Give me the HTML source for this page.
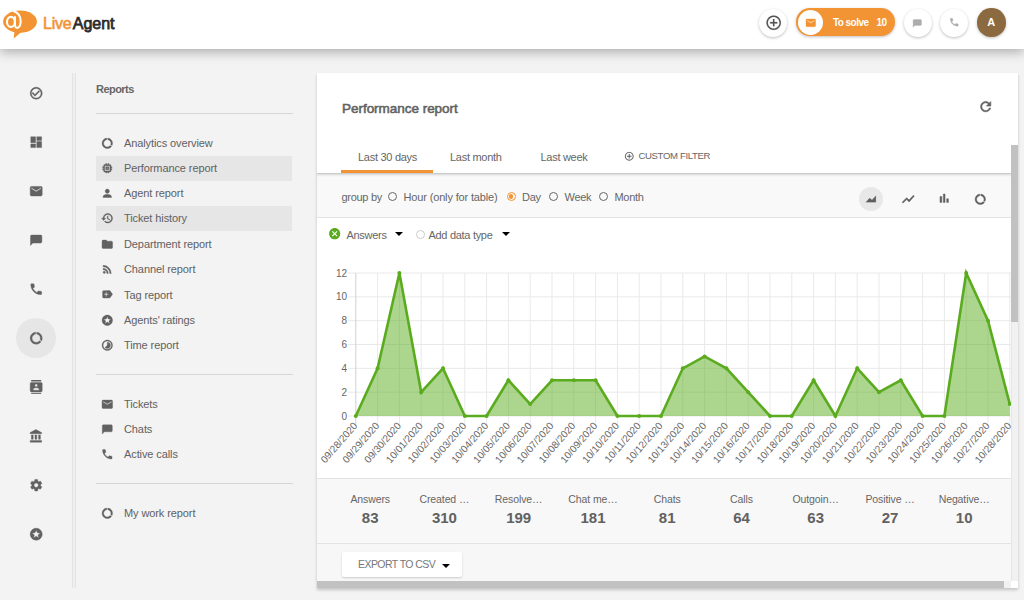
<!DOCTYPE html>
<html><head><meta charset="utf-8"><title>LiveAgent - Performance report</title><style>
*{margin:0;padding:0;box-sizing:border-box}
html,body{width:1024px;height:600px;overflow:hidden;background:#f3f3f3;font-family:"Liberation Sans",sans-serif;color:#616161}
.ic{position:absolute;display:block}
.t{position:absolute;white-space:nowrap;line-height:14px}
#hdr{position:absolute;left:0;top:0;width:1024px;height:48.7px;background:#fff;box-shadow:0 3px 11px rgba(0,0,0,0.3)}
#logo{font-size:16px;letter-spacing:-0.2px;line-height:18px}
#logo span:first-child{font-weight:normal;-webkit-text-stroke:0.6px #f29434}
#logo span:last-child{font-weight:normal;letter-spacing:0px;margin-left:1.2px;-webkit-text-stroke:0.75px #2b2b2b}
.hb{position:absolute;width:28px;height:28px;border-radius:50%;background:#fff;box-shadow:0 1px 3px rgba(0,0,0,0.25)}
#pill{position:absolute;left:796px;top:8px;width:99px;height:28px;border-radius:14px;background:#f29434;box-shadow:0 1px 3px rgba(0,0,0,0.25)}
#pillc{position:absolute;left:797.8px;top:10px;width:25px;height:25px;border-radius:50%;background:#fff}
.ts{color:#fff;font-weight:bold;font-size:10px;letter-spacing:-0.55px}
#avatar{position:absolute;left:977px;top:8px;width:28.5px;height:28.5px;border-radius:50%;background:#8a6a3e;color:#fff;font-weight:bold;font-size:11px;text-align:center;line-height:28.5px;box-shadow:0 1px 3px rgba(0,0,0,0.25)}
#selc{position:absolute;left:15.6px;top:317.8px;width:40.5px;height:40.5px;border-radius:50%;background:#e6e6e6}
#vline{position:absolute;left:72px;top:73px;width:4px;height:515px;border-left:1px solid #e3e3e3;border-right:1px solid #e3e3e3;background:#efefef}
.rep{font-size:11px;font-weight:bold;letter-spacing:-0.55px;color:#666}
.hl{position:absolute;left:96px;width:196.5px;height:1px;background:#d6d6d6}
.hi{position:absolute;left:96px;width:196px;height:25px;background:#e6e6e6}
.mi{font-size:11px;letter-spacing:-0.1px;color:#616161}
#card{position:absolute;left:317px;top:73.3px;width:700.5px;height:514.7px;background:#f7f7f7;box-shadow:0 2px 3px rgba(0,0,0,0.2)}
#cardtop{position:absolute;left:317px;top:73.3px;width:700.5px;height:99.7px;background:#fff}
.title{font-size:13.5px;font-weight:normal;letter-spacing:-0.03px;color:#616161;-webkit-text-stroke:0.55px #616161}
.tab{font-size:11px;letter-spacing:-0.28px;color:#666}
.cf{font-size:9.6px;letter-spacing:-0.38px;color:#666}
#uline{position:absolute;left:341px;top:170px;width:92px;height:3px;background:#f29434}
#tabshadow{position:absolute;left:317px;top:173px;width:694px;height:4px;background:linear-gradient(rgba(0,0,0,0.22),rgba(0,0,0,0.06) 50%,rgba(0,0,0,0))}
#chartbg{position:absolute;left:317px;top:218px;width:694px;height:260px;background:#fff}
#grp{position:absolute;left:317px;top:173px;width:694px;height:45px;background:#f9f9f9;border-bottom:1px solid #e3e3e3}
.gb{font-size:11px;letter-spacing:-0.3px;color:#666}
.rad{position:absolute;width:9.2px;height:9.2px;border-radius:50%;border:1.4px solid #666;background:transparent}
.rad.on{border-color:#f29434}
.rad.on::after{content:"";position:absolute;left:1.05px;top:1.05px;width:4.3px;height:4.3px;border-radius:50%;background:#f29434}
.rad.lt{border-color:#ccc;border-width:1px}
#selchart{position:absolute;left:859px;top:187px;width:24px;height:24px;border-radius:50%;background:#e8e8e8}
.tri{position:absolute;width:0;height:0;border-left:4px solid transparent;border-right:4px solid transparent;border-top:4.5px solid #000}
#chart{position:absolute;left:0;top:0}
#chart{pointer-events:none}
.yl{font-family:"Liberation Sans",sans-serif;font-size:10px;fill:#666}
.xl{font-family:"Liberation Sans",sans-serif;font-size:10px;fill:#666}
#stats{position:absolute;left:317px;top:478px;width:694px;height:66px;background:#f8f8f8;border-top:1px solid #e3e3e3;border-bottom:1px solid #e3e3e3}
.sl{position:absolute;top:493px;width:80px;text-align:center;font-size:10.5px;color:#666;line-height:13px;letter-spacing:-0.1px}
.sv{position:absolute;top:509.3px;width:80px;text-align:center;font-size:15px;font-weight:bold;color:#616161;line-height:18px}
#exp{position:absolute;left:341.5px;top:552px;width:120.5px;height:25px;background:#fff;border-radius:2px;box-shadow:0 1px 2px rgba(0,0,0,0.18)}
#exp span{position:absolute;left:16.5px;top:6px;font-size:10.5px;letter-spacing:-0.55px;color:#777;line-height:13px;white-space:nowrap}
#vtrack{position:absolute;left:1011px;top:145px;width:6.5px;height:436px;background:#f1f1f1;border-left:1px solid #e5e5e5}
#vthumb{position:absolute;left:1011px;top:145px;width:6.5px;height:177px;background:#c1c1c1}
#htrack{position:absolute;left:317px;top:581px;width:694px;height:7px;background:#f1f1f1}
#hthumb{position:absolute;left:317px;top:581px;width:687px;height:7px;background:#c1c1c1}
#corner{position:absolute;left:1011px;top:581px;width:6.5px;height:7px;background:#fff}
</style></head><body>
<div id="hdr"></div>
<svg class="ic" style="left:0;top:0;width:40px;height:48px" viewBox="0 0 40 48">
<ellipse cx="20" cy="21.6" rx="16.9" ry="11.1" fill="#f29434"/>
<polygon points="14.5,30 22.5,31 13.8,38.6" fill="#f29434"/>
<ellipse cx="10.9" cy="21.9" rx="3.9" ry="5" fill="none" stroke="#fff" stroke-width="2.1"/>
<path d="M15 16.3 V25 Q15.2 28 17.6 27.9 Q20.7 26.8 20.7 21 Q20.4 13.2 13.2 11" fill="none" stroke="#fff" stroke-width="2"/>
</svg>
<div class="t" id="logo" style="left:43px;top:15px"><span style="color:#f29434">Live</span><span style="color:#2b2b2b">Agent</span></div>
<div class="hb" style="left:759px;top:8.5px"></div>
<svg class="ic" style="left:764.90px;top:13.90px;width:17.4px;height:17.4px" viewBox="0 0 24 24"><path fill="#555" stroke="#555" stroke-width="0.2" stroke-linejoin="round" d="M13 7h-2v4H7v2h4v4h2v-4h4v-2h-4V7zm-1-5C6.48 2 2 6.48 2 12s4.48 10 10 10 10-4.48 10-10S17.52 2 12 2zm0 18c-4.41 0-8-3.59-8-8s3.59-8 8-8 8 3.59 8 8-3.59 8-8 8z"/></svg>
<div id="pill"></div><div id="pillc"></div>
<svg class="ic" style="left:804.60px;top:17.00px;width:11.6px;height:11.6px" viewBox="0 0 24 24"><path fill="#f29434" stroke="#f29434" stroke-width="0.7" stroke-linejoin="round" d="M20 4H4c-1.1 0-1.99.9-1.99 2L2 18c0 1.1.9 2 2 2h16c1.1 0 2-.9 2-2V6c0-1.1-.9-2-2-2zm0 4l-8 5-8-5V6l8 5 8-5v2z"/></svg>
<div class="t ts" style="left:833px;top:15.8px;">To solve</div>
<div class="t ts" style="left:876.5px;top:15.8px;">10</div>
<div class="hb" style="left:904px;top:9px"></div>
<svg class="ic" style="left:912.00px;top:17.70px;width:10.6px;height:10.6px" viewBox="0 0 24 24"><path fill="#acacac" stroke="#acacac" stroke-width="0.7" stroke-linejoin="round" d="M4.5 3.5h15c1.1 0 2 .9 2 2v9.3c0 1.1-.9 2-2 2H6.5l-4 4V5.5c0-1.1.9-2 2-2z"/></svg>
<div class="hb" style="left:940px;top:9px"></div>
<svg class="ic" style="left:948.65px;top:17.25px;width:10.5px;height:10.5px" viewBox="0 0 24 24"><path fill="#acacac" stroke="#acacac" stroke-width="0.7" stroke-linejoin="round" d="M6.62 10.79c1.44 2.830 3.76 5.14 6.59 6.59l2.2-2.2c.27-.27.67-.36 1.02-.24 1.12.37 2.33.57 3.57.57.55 0 1 .45 1 1V20c0 .55-.45 1-1 1-9.39 0-17-7.61-17-17 0-.55.45-1 1-1h3.5c.55 0 1 .45 1 1 0 1.25.2 2.45.57 3.57.11.35.03.74-.25 1.02l-2.2 2.2z"/></svg>
<div id="avatar">A</div>
<div id="selc"></div>
<svg class="ic" style="left:28.80px;top:85.80px;width:14.4px;height:14.4px" viewBox="0 0 24 24"><path fill="#616161" stroke="#616161" stroke-width="0.7" stroke-linejoin="round" d="M16.59 7.58L10 14.17l-3.59-3.58L5 12l5 5 8-8zM12 2C6.48 2 2 6.48 2 12s4.48 10 10 10 10-4.48 10-10S17.52 2 12 2zm0 18c-4.42 0-8-3.58-8-8s3.58-8 8-8 8 3.58 8 8-3.58 8-8 8z"/></svg>
<svg class="ic" style="left:28.80px;top:134.80px;width:14.4px;height:14.4px" viewBox="0 0 24 24"><path fill="#616161" stroke="#616161" stroke-width="0.7" stroke-linejoin="round" d="M3 13h8V3H3v10zm0 8h8v-6H3v6zm10 0h8V11h-8v10zm0-18v6h8V3h-8z"/></svg>
<svg class="ic" style="left:28.80px;top:183.80px;width:14.4px;height:14.4px" viewBox="0 0 24 24"><path fill="#616161" stroke="#616161" stroke-width="0.7" stroke-linejoin="round" d="M20 4H4c-1.1 0-1.99.9-1.99 2L2 18c0 1.1.9 2 2 2h16c1.1 0 2-.9 2-2V6c0-1.1-.9-2-2-2zm0 4l-8 5-8-5V6l8 5 8-5v2z"/></svg>
<svg class="ic" style="left:28.80px;top:232.80px;width:14.4px;height:14.4px" viewBox="0 0 24 24"><path fill="#616161" stroke="#616161" stroke-width="0.7" stroke-linejoin="round" d="M4.5 3.5h15c1.1 0 2 .9 2 2v9.3c0 1.1-.9 2-2 2H6.5l-4 4V5.5c0-1.1.9-2 2-2z"/></svg>
<svg class="ic" style="left:28.80px;top:281.80px;width:14.4px;height:14.4px" viewBox="0 0 24 24"><path fill="#616161" stroke="#616161" stroke-width="0.7" stroke-linejoin="round" d="M6.62 10.79c1.44 2.830 3.76 5.14 6.59 6.59l2.2-2.2c.27-.27.67-.36 1.02-.24 1.12.37 2.33.57 3.57.57.55 0 1 .45 1 1V20c0 .55-.45 1-1 1-9.39 0-17-7.61-17-17 0-.55.45-1 1-1h3.5c.55 0 1 .45 1 1 0 1.25.2 2.45.57 3.57.11.35.03.74-.25 1.02l-2.2 2.2z"/></svg>
<svg class="ic" style="left:28.80px;top:330.80px;width:14.4px;height:14.4px" viewBox="0 0 24 24"><path fill="#616161" stroke="#616161" stroke-width="0.7" stroke-linejoin="round" d="M13 2.05v3.03c3.39.49 6 3.39 6 6.92 0 .9-.18 1.75-.48 2.54l2.6 1.53c.56-1.24.88-2.62.88-4.070 0-5.18-3.95-9.45-9-9.95zM12 19c-3.87 0-7-3.13-7-7 0-3.53 2.61-6.43 6-6.92V2.05c-5.06.5-9 4.76-9 9.95 0 5.52 4.47 10 9.99 10 3.31 0 6.24-1.61 8.06-4.09l-2.6-1.53C16.17 17.98 14.21 19 12 19z"/></svg>
<svg class="ic" style="left:28.80px;top:379.80px;width:14.4px;height:14.4px" viewBox="0 0 24 24"><path fill="#616161" stroke="#616161" stroke-width="0.7" stroke-linejoin="round" d="M20 0H4v2h16V0zM4 24h16v-2H4v2zM20 4H4c-1.1 0-2 .9-2 2v12c0 1.1.9 2 2 2h16c1.1 0 2-.9 2-2V6c0-1.1-.9-2-2-2zm-8 2.75c1.24 0 2.25 1.01 2.25 2.25s-1.01 2.25-2.25 2.25S9.75 10.24 9.75 9 10.76 6.75 12 6.75zM17 17H7v-1.5c0-1.67 3.33-2.5 5-2.5s5 .83 5 2.5V17z"/></svg>
<svg class="ic" style="left:28.80px;top:428.80px;width:14.4px;height:14.4px" viewBox="0 0 24 24"><path fill="#616161" stroke="#616161" stroke-width="0.7" stroke-linejoin="round" d="M4 10v7h3v-7H4zm6 0v7h3v-7h-3zM2 22h19v-3H2v3zm14-12v7h3v-7h-3zm-4.5-9L2 6v2h19V6l-9.5-5z"/></svg>
<svg class="ic" style="left:28.80px;top:477.80px;width:14.4px;height:14.4px" viewBox="0 0 24 24"><path fill="#616161" stroke="#616161" stroke-width="0.7" stroke-linejoin="round" d="M19.14 12.94c.04-.3.06-.61.06-.94 0-.32-.02-.64-.07-.94l2.03-1.58c.18-.14.23-.41.12-.61l-1.92-3.32c-.12-.22-.37-.29-.59-.22l-2.39.96c-.5-.38-1.03-.7-1.62-.94l-.36-2.54c-.04-.24-.24-.41-.48-.41h-3.84c-.24 0-.43.17-.47.41l-.36 2.54c-.59.24-1.13.57-1.62.94l-2.39-.96c-.22-.08-.47 0-.59.22L2.74 8.87c-.12.21-.08.47.12.61l2.03 1.58c-.05.3-.09.63-.09.94s.02.64.07.94l-2.03 1.58c-.18.14-.23.41-.12.61l1.92 3.32c.12.22.37.29.59.22l2.39-.96c.5.38 1.03.7 1.62.94l.36 2.54c.05.24.24.41.48.41h3.84c.24 0 .44-.17.47-.41l.36-2.54c.59-.24 1.13-.56 1.62-.94l2.39.96c.22.08.47 0 .59-.22l1.92-3.32c.12-.22.07-.47-.12-.61l-2.01-1.58zM12 15.6c-1.98 0-3.6-1.62-3.6-3.6s1.62-3.6 3.6-3.6 3.6 1.62 3.6 3.6-1.62 3.6-3.6 3.6z"/></svg>
<svg class="ic" style="left:28.80px;top:526.80px;width:14.4px;height:14.4px" viewBox="0 0 24 24"><path fill="#616161" stroke="#616161" stroke-width="0.7" stroke-linejoin="round" d="M11.99 2C6.47 2 2 6.48 2 12s4.47 10 9.99 10C17.52 22 22 17.52 22 12S17.52 2 11.99 2zm4.24 16L12 15.45 7.77 18l1.12-4.81-3.73-3.23 4.92-.42L12 5l1.92 4.53 4.92.42-3.73 3.23L16.23 18z"/></svg>
<div id="vline"></div>
<div class="t rep" style="left:96px;top:82px;">Reports</div>
<div class="hl" style="top:113px"></div>
<div class="hi" style="top:156px"></div>
<div class="hi" style="top:206px"></div>
<svg class="ic" style="left:101.20px;top:136.70px;width:12.6px;height:12.6px" viewBox="0 0 24 24"><path fill="#616161" stroke="#616161" stroke-width="0.7" stroke-linejoin="round" d="M13 2.05v3.03c3.39.49 6 3.39 6 6.92 0 .9-.18 1.75-.48 2.54l2.6 1.53c.56-1.24.88-2.62.88-4.070 0-5.18-3.95-9.45-9-9.95zM12 19c-3.87 0-7-3.13-7-7 0-3.53 2.61-6.43 6-6.92V2.05c-5.06.5-9 4.76-9 9.95 0 5.52 4.47 10 9.99 10 3.31 0 6.24-1.61 8.06-4.09l-2.6-1.53C16.17 17.98 14.21 19 12 19z"/></svg>
<div class="t mi" style="left:124px;top:136px;">Analytics overview</div>
<svg class="ic" style="left:101.20px;top:161.70px;width:12.6px;height:12.6px" viewBox="0 0 24 24"><path fill="#616161" stroke="#616161" stroke-width="0.7" stroke-linejoin="round" d="M15 9H9v6h6V9zm-2 4h-2v-2h2v2zm8-2V9h-2V7c0-1.1-.9-2-2-2h-2V3h-2v2h-2V3H9v2H7c-1.1 0-2 .9-2 2v2H3v2h2v2H3v2h2v2c0 1.1.9 2 2 2h2v2h2v-2h2v2h2v-2h2c1.1 0 2-.9 2-2v-2h2v-2h-2v-2h2zm-4 6H7V7h10v10z"/></svg>
<div class="t mi" style="left:124px;top:161px;">Performance report</div>
<svg class="ic" style="left:101.20px;top:186.70px;width:12.6px;height:12.6px" viewBox="0 0 24 24"><path fill="#616161" stroke="#616161" stroke-width="0.7" stroke-linejoin="round" d="M12 12c2.21 0 4-1.79 4-4s-1.79-4-4-4-4 1.79-4 4 1.79 4 4 4zm0 2c-2.67 0-8 1.34-8 4v2h16v-2c0-2.66-5.33-4-8-4z"/></svg>
<div class="t mi" style="left:124px;top:186px;">Agent report</div>
<svg class="ic" style="left:101.20px;top:211.70px;width:12.6px;height:12.6px" viewBox="0 0 24 24"><path fill="#616161" stroke="#616161" stroke-width="0.7" stroke-linejoin="round" d="M13 3c-4.97 0-9 4.03-9 9H1l3.89 3.89.07.14L9 12H6c0-3.87 3.13-7 7-7s7 3.13 7 7-3.13 7-7 7c-1.93 0-3.68-.79-4.94-2.06l-1.42 1.42C8.27 19.99 10.51 21 13 21c4.97 0 9-4.03 9-9s-4.03-9-9-9zm-1 5v5l4.28 2.54.72-1.21-3.5-2.08V8H12z"/></svg>
<div class="t mi" style="left:124px;top:211px;">Ticket history</div>
<svg class="ic" style="left:101.20px;top:237.70px;width:12.6px;height:12.6px" viewBox="0 0 24 24"><path fill="#616161" stroke="#616161" stroke-width="0.7" stroke-linejoin="round" d="M10 4H4c-1.1 0-1.99.9-1.99 2L2 18c0 1.1.9 2 2 2h16c1.1 0 2-.9 2-2V8c0-1.1-.9-2-2-2h-8l-2-2z"/></svg>
<div class="t mi" style="left:124px;top:237px;">Department report</div>
<svg class="ic" style="left:101.20px;top:262.70px;width:12.6px;height:12.6px" viewBox="0 0 24 24"><path fill="#616161" stroke="#616161" stroke-width="0.7" stroke-linejoin="round" d="M6.18 15.64a2.18 2.18 0 0 1 2.18 2.18C8.36 19 7.38 20 6.18 20 5 20 4 19 4 17.82a2.18 2.18 0 0 1 2.18-2.18M4 4.44A15.56 15.56 0 0 1 19.56 20h-2.83A12.73 12.73 0 0 0 4 7.27V4.44m0 5.66a9.9 9.9 0 0 1 9.9 9.9h-2.83A7.07 7.07 0 0 0 4 12.93V10.1z"/></svg>
<div class="t mi" style="left:124px;top:262px;">Channel report</div>
<svg class="ic" style="left:101.20px;top:288.20px;width:12.6px;height:12.6px" viewBox="0 0 24 24"><path fill="#616161" stroke="#616161" stroke-width="0.7" stroke-linejoin="round" d="M17.63 5.84C17.27 5.33 16.67 5 16 5L5 5.01C3.9 5.01 3 5.9 3 7v10c0 1.1.9 1.99 2 1.99L16 19c.67 0 1.27-.33 1.63-.84L22 12l-4.37-6.16zM14 13h-3v3H9v-3H6v-2h3V8h2v3h3v2z"/></svg>
<div class="t mi" style="left:124px;top:287.5px;">Tag report</div>
<svg class="ic" style="left:101.20px;top:313.70px;width:12.6px;height:12.6px" viewBox="0 0 24 24"><path fill="#616161" stroke="#616161" stroke-width="0.7" stroke-linejoin="round" d="M11.99 2C6.47 2 2 6.48 2 12s4.47 10 9.99 10C17.52 22 22 17.52 22 12S17.52 2 11.99 2zm4.24 16L12 15.45 7.77 18l1.12-4.81-3.73-3.23 4.92-.42L12 5l1.92 4.53 4.92.42-3.73 3.23L16.23 18z"/></svg>
<div class="t mi" style="left:124px;top:313px;">Agents' ratings</div>
<svg class="ic" style="left:101.20px;top:338.70px;width:12.6px;height:12.6px" viewBox="0 0 24 24"><path fill="#616161" stroke="#616161" stroke-width="0.7" stroke-linejoin="round" d="M16.24 7.76C15.07 6.59 13.54 6 12 6v6l-4.24 4.24c2.34 2.34 6.14 2.34 8.49 0 2.34-2.34 2.34-6.14-.01-8.48zM12 2C6.48 2 2 6.48 2 12s4.48 10 10 10 10-4.48 10-10S17.52 2 12 2zm0 18c-4.42 0-8-3.58-8-8s3.58-8 8-8 8 3.58 8 8-3.58 8-8 8z"/></svg>
<div class="t mi" style="left:124px;top:338px;">Time report</div>
<svg class="ic" style="left:101.20px;top:397.70px;width:12.6px;height:12.6px" viewBox="0 0 24 24"><path fill="#616161" stroke="#616161" stroke-width="0.7" stroke-linejoin="round" d="M20 4H4c-1.1 0-1.99.9-1.99 2L2 18c0 1.1.9 2 2 2h16c1.1 0 2-.9 2-2V6c0-1.1-.9-2-2-2zm0 4l-8 5-8-5V6l8 5 8-5v2z"/></svg>
<div class="t mi" style="left:124px;top:397px;">Tickets</div>
<svg class="ic" style="left:101.20px;top:422.70px;width:12.6px;height:12.6px" viewBox="0 0 24 24"><path fill="#616161" stroke="#616161" stroke-width="0.7" stroke-linejoin="round" d="M4.5 3.5h15c1.1 0 2 .9 2 2v9.3c0 1.1-.9 2-2 2H6.5l-4 4V5.5c0-1.1.9-2 2-2z"/></svg>
<div class="t mi" style="left:124px;top:422px;">Chats</div>
<svg class="ic" style="left:101.20px;top:447.70px;width:12.6px;height:12.6px" viewBox="0 0 24 24"><path fill="#616161" stroke="#616161" stroke-width="0.7" stroke-linejoin="round" d="M6.62 10.79c1.44 2.830 3.76 5.14 6.59 6.59l2.2-2.2c.27-.27.67-.36 1.02-.24 1.12.37 2.33.57 3.57.57.55 0 1 .45 1 1V20c0 .55-.45 1-1 1-9.39 0-17-7.61-17-17 0-.55.45-1 1-1h3.5c.55 0 1 .45 1 1 0 1.25.2 2.45.57 3.57.11.35.03.74-.25 1.02l-2.2 2.2z"/></svg>
<div class="t mi" style="left:124px;top:447px;">Active calls</div>
<svg class="ic" style="left:101.20px;top:506.70px;width:12.6px;height:12.6px" viewBox="0 0 24 24"><path fill="#616161" stroke="#616161" stroke-width="0.7" stroke-linejoin="round" d="M13 2.05v3.03c3.39.49 6 3.39 6 6.92 0 .9-.18 1.75-.48 2.54l2.6 1.53c.56-1.24.88-2.62.88-4.070 0-5.18-3.95-9.45-9-9.95zM12 19c-3.87 0-7-3.13-7-7 0-3.53 2.61-6.43 6-6.92V2.05c-5.06.5-9 4.76-9 9.95 0 5.52 4.47 10 9.99 10 3.31 0 6.24-1.61 8.06-4.09l-2.6-1.53C16.17 17.98 14.21 19 12 19z"/></svg>
<div class="t mi" style="left:124px;top:506px;">My work report</div>
<div class="hl" style="top:374px"></div>
<div class="hl" style="top:483px"></div>
<div id="card"></div>
<div id="cardtop"></div>
<div class="t title" style="left:342px;top:101.5px;">Performance report</div>
<svg class="ic" style="left:977.90px;top:98.80px;width:15.4px;height:15.4px" viewBox="0 0 24 24"><path fill="#616161" stroke="#616161" stroke-width="0.9" stroke-linejoin="round" d="M17.65 6.35C16.2 4.9 14.21 4 12 4c-4.42 0-7.99 3.58-7.99 8s3.57 8 7.99 8c3.73 0 6.84-2.55 7.73-6h-2.08c-.82 2.33-3.04 4-5.65 4-3.31 0-6-2.69-6-6s2.69-6 6-6c1.66 0 3.14.69 4.22 1.780L13 11h7V4l-2.35 2.35z"/></svg>
<div class="t tab" style="left:358px;top:150px;">Last 30 days</div>
<div class="t tab" style="left:450px;top:150px;">Last month</div>
<div class="t tab" style="left:540.5px;top:150px;">Last week</div>
<svg class="ic" style="left:623.85px;top:151.05px;width:10.5px;height:10.5px" viewBox="0 0 24 24"><path fill="#616161" stroke="#616161" stroke-width="0.2" stroke-linejoin="round" d="M13 7h-2v4H7v2h4v4h2v-4h4v-2h-4V7zm-1-5C6.48 2 2 6.48 2 12s4.48 10 10 10 10-4.48 10-10S17.52 2 12 2zm0 18c-4.41 0-8-3.59-8-8s3.59-8 8-8 8 3.59 8 8-3.59 8-8 8z"/></svg>
<div class="t cf" style="left:638.5px;top:149.3px;">CUSTOM FILTER</div>
<div id="uline"></div>
<div id="chartbg"></div>
<div id="grp"></div>
<div id="tabshadow"></div>
<div class="t gb" style="left:341.5px;top:190px;">group by</div>
<div class="rad" style="left:388.0px;top:192.3px"></div>
<div class="t gb" style="left:403.5px;top:190px;letter-spacing:-0.15px">Hour (only for table)</div>
<div class="rad on" style="left:506.7px;top:192.3px"></div>
<div class="t gb" style="left:522px;top:190px;">Day</div>
<div class="rad" style="left:548.5px;top:192.3px"></div>
<div class="t gb" style="left:564.5px;top:190px;">Week</div>
<div class="rad" style="left:598.7px;top:192.3px"></div>
<div class="t gb" style="left:614.5px;top:190px;">Month</div>
<div id="selchart"></div>
<svg class="ic" style="left:863.60px;top:192.10px;width:14.4px;height:14.4px" viewBox="0 0 24 24"><path fill="#5f5f5f" stroke="#5f5f5f" stroke-width="0.3" stroke-linejoin="round" d="M3 17 L9.5 10 L13.3 13.2 L19.8 6.3 V17 Z"/></svg>
<svg class="ic" style="left:900.70px;top:192.10px;width:14.4px;height:14.4px" viewBox="0 0 24 24"><path fill="#616161" stroke="#616161" stroke-width="1.0" stroke-linejoin="round" d="M3.5 18.49l6-6.01 4 4L22 6.92l-1.41-1.41-7.09 7.97-4-4L2 16.99z"/></svg>
<svg class="ic" style="left:936.80px;top:191.40px;width:14.4px;height:14.4px" viewBox="0 0 24 24"><path fill="#616161" stroke="#616161" stroke-width="0.8" stroke-linejoin="round" d="M5 9.2h3V19H5zM10.6 5h2.8v14h-2.8zm5.6 8H19v6h-2.8z"/></svg>
<svg class="ic" style="left:974.40px;top:192.60px;width:12.6px;height:12.6px" viewBox="0 0 24 24"><path fill="#616161" stroke="#616161" stroke-width="0.7" stroke-linejoin="round" d="M13 2.05v3.03c3.39.49 6 3.39 6 6.92 0 .9-.18 1.75-.48 2.54l2.6 1.53c.56-1.24.88-2.62.88-4.070 0-5.18-3.95-9.45-9-9.95zM12 19c-3.87 0-7-3.13-7-7 0-3.53 2.61-6.43 6-6.92V2.05c-5.06.5-9 4.76-9 9.95 0 5.52 4.47 10 9.99 10 3.31 0 6.24-1.61 8.06-4.09l-2.6-1.53C16.17 17.98 14.21 19 12 19z"/></svg>
<svg class="ic" style="left:327.70px;top:227.30px;width:13.4px;height:13.4px" viewBox="0 0 24 24"><path fill="#5aab1e" d="M12 2C6.47 2 2 6.47 2 12s4.47 10 10 10 10-4.47 10-10S17.53 2 12 2zm5 13.59L15.59 17 12 13.41 8.41 17 7 15.590 10.59 12 7 8.41 8.41 7 12 10.59 15.59 7 17 8.41 13.41 12 17 15.59z"/></svg>
<div class="t gb" style="left:346.5px;top:227.5px;">Answers</div>

<div class="tri" style="left:395.3px;top:232px"></div>
<div class="rad lt" style="left:415.9px;top:230.1px"></div>
<div class="t gb" style="left:428.5px;top:227.5px;">Add data type</div>
<div class="tri" style="left:501.8px;top:232px"></div>
<svg id="chart" width="1024" height="600" viewBox="0 0 1024 600">
<line x1="348" y1="416.00" x2="1011" y2="416.00" stroke="#e9e9e9" stroke-width="1"/>
<line x1="348" y1="392.17" x2="1011" y2="392.17" stroke="#e9e9e9" stroke-width="1"/>
<line x1="348" y1="368.33" x2="1011" y2="368.33" stroke="#e9e9e9" stroke-width="1"/>
<line x1="348" y1="344.50" x2="1011" y2="344.50" stroke="#e9e9e9" stroke-width="1"/>
<line x1="348" y1="320.67" x2="1011" y2="320.67" stroke="#e9e9e9" stroke-width="1"/>
<line x1="348" y1="296.83" x2="1011" y2="296.83" stroke="#e9e9e9" stroke-width="1"/>
<line x1="348" y1="273.00" x2="1011" y2="273.00" stroke="#e9e9e9" stroke-width="1"/>
<line x1="355.80" y1="273.00" x2="355.80" y2="424.00" stroke="#d0d0d0" stroke-width="1"/>
<line x1="377.60" y1="273.00" x2="377.60" y2="424.00" stroke="#e9e9e9" stroke-width="1"/>
<line x1="399.40" y1="273.00" x2="399.40" y2="424.00" stroke="#e9e9e9" stroke-width="1"/>
<line x1="421.20" y1="273.00" x2="421.20" y2="424.00" stroke="#e9e9e9" stroke-width="1"/>
<line x1="443.00" y1="273.00" x2="443.00" y2="424.00" stroke="#e9e9e9" stroke-width="1"/>
<line x1="464.80" y1="273.00" x2="464.80" y2="424.00" stroke="#e9e9e9" stroke-width="1"/>
<line x1="486.60" y1="273.00" x2="486.60" y2="424.00" stroke="#e9e9e9" stroke-width="1"/>
<line x1="508.40" y1="273.00" x2="508.40" y2="424.00" stroke="#e9e9e9" stroke-width="1"/>
<line x1="530.20" y1="273.00" x2="530.20" y2="424.00" stroke="#e9e9e9" stroke-width="1"/>
<line x1="552.00" y1="273.00" x2="552.00" y2="424.00" stroke="#e9e9e9" stroke-width="1"/>
<line x1="573.80" y1="273.00" x2="573.80" y2="424.00" stroke="#e9e9e9" stroke-width="1"/>
<line x1="595.60" y1="273.00" x2="595.60" y2="424.00" stroke="#e9e9e9" stroke-width="1"/>
<line x1="617.40" y1="273.00" x2="617.40" y2="424.00" stroke="#e9e9e9" stroke-width="1"/>
<line x1="639.20" y1="273.00" x2="639.20" y2="424.00" stroke="#e9e9e9" stroke-width="1"/>
<line x1="661.00" y1="273.00" x2="661.00" y2="424.00" stroke="#e9e9e9" stroke-width="1"/>
<line x1="682.80" y1="273.00" x2="682.80" y2="424.00" stroke="#e9e9e9" stroke-width="1"/>
<line x1="704.60" y1="273.00" x2="704.60" y2="424.00" stroke="#e9e9e9" stroke-width="1"/>
<line x1="726.40" y1="273.00" x2="726.40" y2="424.00" stroke="#e9e9e9" stroke-width="1"/>
<line x1="748.20" y1="273.00" x2="748.20" y2="424.00" stroke="#e9e9e9" stroke-width="1"/>
<line x1="770.00" y1="273.00" x2="770.00" y2="424.00" stroke="#e9e9e9" stroke-width="1"/>
<line x1="791.80" y1="273.00" x2="791.80" y2="424.00" stroke="#e9e9e9" stroke-width="1"/>
<line x1="813.60" y1="273.00" x2="813.60" y2="424.00" stroke="#e9e9e9" stroke-width="1"/>
<line x1="835.40" y1="273.00" x2="835.40" y2="424.00" stroke="#e9e9e9" stroke-width="1"/>
<line x1="857.20" y1="273.00" x2="857.20" y2="424.00" stroke="#e9e9e9" stroke-width="1"/>
<line x1="879.00" y1="273.00" x2="879.00" y2="424.00" stroke="#e9e9e9" stroke-width="1"/>
<line x1="900.80" y1="273.00" x2="900.80" y2="424.00" stroke="#e9e9e9" stroke-width="1"/>
<line x1="922.60" y1="273.00" x2="922.60" y2="424.00" stroke="#e9e9e9" stroke-width="1"/>
<line x1="944.40" y1="273.00" x2="944.40" y2="424.00" stroke="#e9e9e9" stroke-width="1"/>
<line x1="966.20" y1="273.00" x2="966.20" y2="424.00" stroke="#e9e9e9" stroke-width="1"/>
<line x1="988.00" y1="273.00" x2="988.00" y2="424.00" stroke="#e9e9e9" stroke-width="1"/>
<line x1="1009.80" y1="273.00" x2="1009.80" y2="424.00" stroke="#e9e9e9" stroke-width="1"/>
<polygon points="355.80,416.0 355.80,416.00 377.60,368.33 399.40,273.00 421.20,392.17 443.00,368.33 464.80,416.00 486.60,416.00 508.40,380.25 530.20,404.08 552.00,380.25 573.80,380.25 595.60,380.25 617.40,416.00 639.20,416.00 661.00,416.00 682.80,368.33 704.60,356.42 726.40,368.33 748.20,392.17 770.00,416.00 791.80,416.00 813.60,380.25 835.40,416.00 857.20,368.33 879.00,392.17 900.80,380.25 922.60,416.00 944.40,416.00 966.20,273.00 988.00,320.67 1009.80,404.08 1009.80,416.0" fill="rgba(90,171,30,0.5)"/>
<polyline points="355.80,416.00 377.60,368.33 399.40,273.00 421.20,392.17 443.00,368.33 464.80,416.00 486.60,416.00 508.40,380.25 530.20,404.08 552.00,380.25 573.80,380.25 595.60,380.25 617.40,416.00 639.20,416.00 661.00,416.00 682.80,368.33 704.60,356.42 726.40,368.33 748.20,392.17 770.00,416.00 791.80,416.00 813.60,380.25 835.40,416.00 857.20,368.33 879.00,392.17 900.80,380.25 922.60,416.00 944.40,416.00 966.20,273.00 988.00,320.67 1009.80,404.08" fill="none" stroke="#5aab1e" stroke-width="2.6" stroke-linejoin="miter"/>
<circle cx="355.80" cy="416.00" r="2" fill="#5aab1e"/>
<circle cx="377.60" cy="368.33" r="2" fill="#5aab1e"/>
<circle cx="399.40" cy="273.00" r="2" fill="#5aab1e"/>
<circle cx="421.20" cy="392.17" r="2" fill="#5aab1e"/>
<circle cx="443.00" cy="368.33" r="2" fill="#5aab1e"/>
<circle cx="464.80" cy="416.00" r="2" fill="#5aab1e"/>
<circle cx="486.60" cy="416.00" r="2" fill="#5aab1e"/>
<circle cx="508.40" cy="380.25" r="2" fill="#5aab1e"/>
<circle cx="530.20" cy="404.08" r="2" fill="#5aab1e"/>
<circle cx="552.00" cy="380.25" r="2" fill="#5aab1e"/>
<circle cx="573.80" cy="380.25" r="2" fill="#5aab1e"/>
<circle cx="595.60" cy="380.25" r="2" fill="#5aab1e"/>
<circle cx="617.40" cy="416.00" r="2" fill="#5aab1e"/>
<circle cx="639.20" cy="416.00" r="2" fill="#5aab1e"/>
<circle cx="661.00" cy="416.00" r="2" fill="#5aab1e"/>
<circle cx="682.80" cy="368.33" r="2" fill="#5aab1e"/>
<circle cx="704.60" cy="356.42" r="2" fill="#5aab1e"/>
<circle cx="726.40" cy="368.33" r="2" fill="#5aab1e"/>
<circle cx="748.20" cy="392.17" r="2" fill="#5aab1e"/>
<circle cx="770.00" cy="416.00" r="2" fill="#5aab1e"/>
<circle cx="791.80" cy="416.00" r="2" fill="#5aab1e"/>
<circle cx="813.60" cy="380.25" r="2" fill="#5aab1e"/>
<circle cx="835.40" cy="416.00" r="2" fill="#5aab1e"/>
<circle cx="857.20" cy="368.33" r="2" fill="#5aab1e"/>
<circle cx="879.00" cy="392.17" r="2" fill="#5aab1e"/>
<circle cx="900.80" cy="380.25" r="2" fill="#5aab1e"/>
<circle cx="922.60" cy="416.00" r="2" fill="#5aab1e"/>
<circle cx="944.40" cy="416.00" r="2" fill="#5aab1e"/>
<circle cx="966.20" cy="273.00" r="2" fill="#5aab1e"/>
<circle cx="988.00" cy="320.67" r="2" fill="#5aab1e"/>
<circle cx="1009.80" cy="404.08" r="2" fill="#5aab1e"/>
<text x="347" y="419.60" text-anchor="end" class="yl">0</text>
<text x="347" y="395.77" text-anchor="end" class="yl">2</text>
<text x="347" y="371.93" text-anchor="end" class="yl">4</text>
<text x="347" y="348.10" text-anchor="end" class="yl">6</text>
<text x="347" y="324.27" text-anchor="end" class="yl">8</text>
<text x="347" y="300.43" text-anchor="end" class="yl">10</text>
<text x="347" y="276.60" text-anchor="end" class="yl">12</text>
<text transform="translate(358.00,426.00) rotate(-49)" text-anchor="end" class="xl">09/28/2020</text>
<text transform="translate(379.80,426.00) rotate(-49)" text-anchor="end" class="xl">09/29/2020</text>
<text transform="translate(401.60,426.00) rotate(-49)" text-anchor="end" class="xl">09/30/2020</text>
<text transform="translate(423.40,426.00) rotate(-49)" text-anchor="end" class="xl">10/01/2020</text>
<text transform="translate(445.20,426.00) rotate(-49)" text-anchor="end" class="xl">10/02/2020</text>
<text transform="translate(467.00,426.00) rotate(-49)" text-anchor="end" class="xl">10/03/2020</text>
<text transform="translate(488.80,426.00) rotate(-49)" text-anchor="end" class="xl">10/04/2020</text>
<text transform="translate(510.60,426.00) rotate(-49)" text-anchor="end" class="xl">10/05/2020</text>
<text transform="translate(532.40,426.00) rotate(-49)" text-anchor="end" class="xl">10/06/2020</text>
<text transform="translate(554.20,426.00) rotate(-49)" text-anchor="end" class="xl">10/07/2020</text>
<text transform="translate(576.00,426.00) rotate(-49)" text-anchor="end" class="xl">10/08/2020</text>
<text transform="translate(597.80,426.00) rotate(-49)" text-anchor="end" class="xl">10/09/2020</text>
<text transform="translate(619.60,426.00) rotate(-49)" text-anchor="end" class="xl">10/10/2020</text>
<text transform="translate(641.40,426.00) rotate(-49)" text-anchor="end" class="xl">10/11/2020</text>
<text transform="translate(663.20,426.00) rotate(-49)" text-anchor="end" class="xl">10/12/2020</text>
<text transform="translate(685.00,426.00) rotate(-49)" text-anchor="end" class="xl">10/13/2020</text>
<text transform="translate(706.80,426.00) rotate(-49)" text-anchor="end" class="xl">10/14/2020</text>
<text transform="translate(728.60,426.00) rotate(-49)" text-anchor="end" class="xl">10/15/2020</text>
<text transform="translate(750.40,426.00) rotate(-49)" text-anchor="end" class="xl">10/16/2020</text>
<text transform="translate(772.20,426.00) rotate(-49)" text-anchor="end" class="xl">10/17/2020</text>
<text transform="translate(794.00,426.00) rotate(-49)" text-anchor="end" class="xl">10/18/2020</text>
<text transform="translate(815.80,426.00) rotate(-49)" text-anchor="end" class="xl">10/19/2020</text>
<text transform="translate(837.60,426.00) rotate(-49)" text-anchor="end" class="xl">10/20/2020</text>
<text transform="translate(859.40,426.00) rotate(-49)" text-anchor="end" class="xl">10/21/2020</text>
<text transform="translate(881.20,426.00) rotate(-49)" text-anchor="end" class="xl">10/22/2020</text>
<text transform="translate(903.00,426.00) rotate(-49)" text-anchor="end" class="xl">10/23/2020</text>
<text transform="translate(924.80,426.00) rotate(-49)" text-anchor="end" class="xl">10/24/2020</text>
<text transform="translate(946.60,426.00) rotate(-49)" text-anchor="end" class="xl">10/25/2020</text>
<text transform="translate(968.40,426.00) rotate(-49)" text-anchor="end" class="xl">10/26/2020</text>
<text transform="translate(990.20,426.00) rotate(-49)" text-anchor="end" class="xl">10/27/2020</text>
<text transform="translate(1012.00,426.00) rotate(-49)" text-anchor="end" class="xl">10/28/2020</text>
</svg>
<div id="stats"></div>
<div class="sl" style="left:330.2px">Answers</div>
<div class="sv" style="left:330.2px">83</div>
<div class="sl" style="left:404.4px">Created …</div>
<div class="sv" style="left:404.4px">310</div>
<div class="sl" style="left:478.7px">Resolve…</div>
<div class="sv" style="left:478.7px">199</div>
<div class="sl" style="left:553.0px">Chat me…</div>
<div class="sv" style="left:553.0px">181</div>
<div class="sl" style="left:627.2px">Chats</div>
<div class="sv" style="left:627.2px">81</div>
<div class="sl" style="left:701.5px">Calls</div>
<div class="sv" style="left:701.5px">64</div>
<div class="sl" style="left:775.7px">Outgoin…</div>
<div class="sv" style="left:775.7px">63</div>
<div class="sl" style="left:850.0px">Positive …</div>
<div class="sv" style="left:850.0px">27</div>
<div class="sl" style="left:924.2px">Negative…</div>
<div class="sv" style="left:924.2px">10</div>
<div id="exp"><span>EXPORT TO CSV</span></div>
<div class="tri" style="left:441.8px;top:563.6px"></div>
<div id="vtrack"></div><div id="vthumb"></div>
<div id="htrack"></div><div id="hthumb"></div><div id="corner"></div>
</body></html>
